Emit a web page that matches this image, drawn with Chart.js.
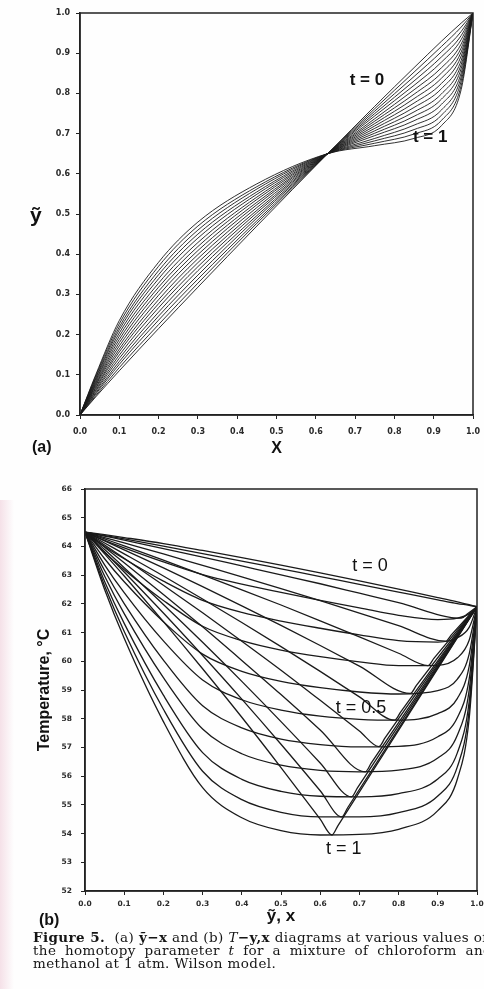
<!DOCTYPE html>
<html>
<head>
<meta charset="utf-8">
<script src="https://cdn.jsdelivr.net/npm/chart.js@4.4.1/dist/chart.umd.min.js"></script>
<style>
  body { margin: 0; width: 484px; height: 989px; background: #fefefe; position: relative; overflow: hidden; }
  .lbl { position: absolute; font-family: 'Liberation Sans', Arial, sans-serif; font-weight: bold; color: #111; white-space: nowrap; }
  .cap { position: absolute; left: 33px; font-family: 'DejaVu Serif', serif; font-size: 13.5px; line-height: 13px; letter-spacing: 0.4px; color: #151515; white-space: nowrap; }
  .tint { position: absolute; left: 0; top: 500px; width: 14px; height: 489px; background: linear-gradient(to right, rgba(236, 196, 210, 0.5), rgba(236, 196, 210, 0)); }
</style>
</head>
<body>
<div class="tint"></div>
<canvas id="chartA" width="484" height="460" style="position:absolute;left:0;top:0"></canvas>
<canvas id="chartB" width="484" height="450" style="position:absolute;left:0;top:480px"></canvas>
<div class="lbl" style="left:30px;top:203px;font-size:21px">ỹ</div>
<div class="lbl" style="left:32px;top:438px;font-size:16px">(a)</div>
<div class="lbl" style="left:39px;top:911px;font-size:16px">(b)</div>
<div class="cap" style="top:931px"><b>Figure 5.</b>&nbsp; (a) <b>ỹ−x</b> and (b) <i>T</i><b>−y,x</b> diagrams at various values of</div>
<div class="cap" style="top:944px;word-spacing:4px">the homotopy parameter <i>t</i> for a mixture of chloroform and</div>
<div class="cap" style="top:957px">methanol at 1 atm. Wilson model.</div>
<script>
// (a) y~ vs x, homotopy t = 0 ... 1 (17 curves, first row t = 0, last row t = 1)
const xA = [0, 0.04, 0.1, 0.2, 0.3, 0.45, 0.63, 0.75, 0.85, 0.92, 0.97, 1];
const yTildeA = [
  [0, 0.045, 0.110, 0.215, 0.318, 0.470, 0.65, 0.768, 0.864, 0.930, 0.975, 1],
  [0, 0.048, 0.118, 0.225, 0.328, 0.477, 0.65, 0.762, 0.853, 0.917, 0.965, 1],
  [0, 0.052, 0.126, 0.236, 0.338, 0.483, 0.65, 0.756, 0.842, 0.904, 0.954, 1],
  [0, 0.055, 0.133, 0.246, 0.348, 0.490, 0.65, 0.750, 0.831, 0.891, 0.944, 1],
  [0, 0.059, 0.141, 0.256, 0.359, 0.496, 0.65, 0.744, 0.820, 0.878, 0.934, 1],
  [0, 0.062, 0.149, 0.267, 0.369, 0.503, 0.65, 0.737, 0.809, 0.864, 0.923, 1],
  [0, 0.066, 0.157, 0.277, 0.379, 0.509, 0.65, 0.731, 0.798, 0.851, 0.913, 1],
  [0, 0.069, 0.164, 0.287, 0.389, 0.516, 0.65, 0.725, 0.787, 0.838, 0.903, 1],
  [0, 0.073, 0.172, 0.298, 0.399, 0.523, 0.65, 0.719, 0.776, 0.825, 0.893, 1],
  [0, 0.076, 0.180, 0.308, 0.409, 0.529, 0.65, 0.713, 0.765, 0.812, 0.882, 1],
  [0, 0.079, 0.188, 0.318, 0.419, 0.536, 0.65, 0.707, 0.754, 0.799, 0.872, 1],
  [0, 0.083, 0.196, 0.328, 0.429, 0.542, 0.65, 0.701, 0.743, 0.786, 0.862, 1],
  [0, 0.086, 0.204, 0.339, 0.440, 0.549, 0.65, 0.695, 0.732, 0.773, 0.851, 1],
  [0, 0.090, 0.212, 0.349, 0.450, 0.555, 0.65, 0.688, 0.721, 0.759, 0.841, 1],
  [0, 0.093, 0.219, 0.359, 0.460, 0.562, 0.65, 0.682, 0.710, 0.746, 0.831, 1],
  [0, 0.097, 0.227, 0.370, 0.470, 0.568, 0.65, 0.676, 0.699, 0.733, 0.820, 1],
  [0, 0.100, 0.235, 0.380, 0.480, 0.575, 0.65, 0.670, 0.688, 0.720, 0.810, 1]
];

// (b) T-x (bubble) and T-y (dew) curves, t = 0, 0.1, ... 1
const xB = [0, 0.05, 0.1, 0.2, 0.3, 0.4, 0.5, 0.6, 0.7, 0.8, 0.9, 0.95, 0.98, 1];
const bubbleT = [
  [64.5, 64.38, 64.26, 64.01, 63.75, 63.49, 63.22, 62.95, 62.68, 62.41, 62.14, 62.01, 61.95, 61.9],
  [64.5, 64.21, 63.95, 63.46, 63.02, 62.69, 62.40, 62.12, 61.86, 61.60, 61.45, 61.50, 61.65, 61.9],
  [64.5, 64.00, 63.57, 62.79, 62.12, 61.70, 61.40, 61.15, 60.92, 60.72, 60.67, 60.82, 61.18, 61.9],
  [64.5, 63.80, 63.19, 62.12, 61.22, 60.72, 60.39, 60.16, 59.98, 59.85, 59.86, 60.12, 60.73, 61.9],
  [64.5, 63.57, 62.77, 61.38, 60.25, 59.65, 59.30, 59.08, 58.93, 58.86, 58.98, 59.38, 60.25, 61.9],
  [64.5, 63.36, 62.39, 60.71, 59.35, 58.66, 58.30, 58.09, 57.98, 57.95, 58.18, 58.71, 59.82, 61.9],
  [64.5, 63.16, 62.01, 60.04, 58.45, 57.68, 57.29, 57.10, 57.02, 57.04, 57.37, 58.04, 59.38, 61.9],
  [64.5, 62.97, 61.66, 59.43, 57.64, 56.78, 56.38, 56.20, 56.15, 56.21, 56.63, 57.43, 58.99, 61.9],
  [64.5, 62.78, 61.32, 58.82, 56.82, 55.89, 55.47, 55.30, 55.28, 55.39, 55.90, 56.82, 58.59, 61.9],
  [64.5, 62.63, 61.04, 58.33, 56.17, 55.18, 54.74, 54.58, 54.58, 54.73, 55.31, 56.33, 58.28, 61.9],
  [64.5, 62.50, 60.80, 57.90, 55.60, 54.55, 54.10, 53.95, 53.97, 54.15, 54.80, 55.90, 58.00, 61.9]
];
const dewX = [
  [0, 0.05, 0.1, 0.2, 0.3, 0.4, 0.5, 0.6, 0.7, 0.8, 0.9, 0.95, 0.98, 1],
  [0, 0.05, 0.1, 0.2, 0.3, 0.4, 0.5, 0.6, 0.7, 0.8, 0.96, 0.975, 1],
  [0, 0.05, 0.1, 0.2, 0.3, 0.4, 0.5, 0.6, 0.7, 0.8, 0.92, 0.935, 1],
  [0, 0.05, 0.1, 0.2, 0.3, 0.4, 0.5, 0.6, 0.7, 0.8, 0.875, 0.89, 1],
  [0, 0.05, 0.1, 0.2, 0.3, 0.4, 0.5, 0.6, 0.7, 0.83, 0.845, 1],
  [0, 0.05, 0.1, 0.2, 0.3, 0.4, 0.5, 0.6, 0.7, 0.79, 0.805, 1],
  [0, 0.05, 0.1, 0.2, 0.3, 0.4, 0.5, 0.6, 0.7, 0.75, 0.765, 1],
  [0, 0.05, 0.1, 0.2, 0.3, 0.4, 0.5, 0.6, 0.715, 0.73, 1],
  [0, 0.05, 0.1, 0.2, 0.3, 0.4, 0.5, 0.6, 0.68, 0.695, 1],
  [0, 0.05, 0.1, 0.2, 0.3, 0.4, 0.5, 0.6, 0.655, 0.67, 1],
  [0, 0.05, 0.1, 0.2, 0.3, 0.4, 0.5, 0.6, 0.63, 0.645, 1]
];
const dewT = [
  [64.5, 64.41, 64.31, 64.10, 63.86, 63.61, 63.35, 63.08, 62.80, 62.51, 62.22, 62.07, 61.97, 61.9],
  [64.5, 64.36, 64.22, 63.92, 63.63, 63.32, 63.01, 62.70, 62.37, 62.04, 61.50, 61.65, 61.9],
  [64.5, 64.31, 64.12, 63.74, 63.34, 62.94, 62.53, 62.11, 61.68, 61.24, 60.70, 60.93, 61.9],
  [64.5, 64.26, 64.02, 63.52, 63.01, 62.49, 61.96, 61.41, 60.85, 60.28, 59.85, 60.10, 61.9],
  [64.5, 64.19, 63.88, 63.25, 62.60, 61.93, 61.25, 60.55, 59.83, 58.88, 59.15, 61.9],
  [64.5, 64.12, 63.74, 62.97, 62.17, 61.35, 60.51, 59.65, 58.76, 57.95, 58.23, 61.9],
  [64.5, 64.05, 63.59, 62.65, 61.69, 60.70, 59.69, 58.64, 57.57, 57.03, 57.32, 61.9],
  [64.5, 63.97, 63.43, 62.33, 61.20, 60.03, 58.84, 57.61, 56.15, 56.45, 61.9],
  [64.5, 63.89, 63.26, 61.98, 60.66, 59.30, 57.90, 56.46, 55.28, 55.59, 61.9],
  [64.5, 63.81, 63.11, 61.68, 60.20, 58.68, 57.11, 55.49, 54.58, 54.90, 61.9],
  [64.5, 63.74, 62.97, 61.38, 59.74, 58.05, 56.30, 54.50, 53.95, 54.27, 61.9]
];

// curve labels, in data units
const labelsA = [
  { text: 't = 0', x: 0.73, y: 0.833 },
  { text: 't = 1', x: 0.891, y: 0.692 }
];
const labelsB = [
  { text: 't = 0', x: 0.727, y: 63.3 },
  { text: 't = 0.5', x: 0.704, y: 58.37 },
  { text: 't = 1', x: 0.66, y: 53.46 }
];

const ink = '#1a1a1a';
const tickFontA = { family: 'DejaVu Sans', size: 8, weight: 'bold' };
const tickFontB = { family: 'DejaVu Sans', size: 7.5, weight: 'bold' };
const titleFont = { family: 'Liberation Sans', size: 16, weight: 'bold' };

function curves(xs, rows, width) {
  return rows.map((ys, i) => {
    const xr = Array.isArray(xs[0]) ? xs[i] : xs;
    return {
      data: ys.map((y, j) => ({ x: xr[j], y: y })),
      borderColor: ink,
      borderWidth: width,
      pointRadius: 0,
      fill: false,
      cubicInterpolationMode: 'monotone'
    };
  });
}

// box round the plot and the t = ... labels
const framePlugin = {
  id: 'frame',
  afterDatasetsDraw(chart, args, opts) {
    const { ctx, chartArea: a, scales } = chart;
    ctx.save();
    ctx.strokeStyle = '#222';
    ctx.lineWidth = 1.5;
    ctx.strokeRect(a.left, a.top, a.right - a.left, a.bottom - a.top);
    ctx.font = opts.font;
    ctx.fillStyle = '#111';
    ctx.textAlign = 'center';
    ctx.textBaseline = 'middle';
    opts.labels.forEach(l => {
      ctx.fillText(l.text, scales.x.getPixelForValue(l.x), scales.y.getPixelForValue(l.y));
    });
    ctx.restore();
  }
};

function axis(min, max, step, digits, font, pad, size, horizontal, title) {
  return {
    type: 'linear',
    min: min,
    max: max,
    ticks: {
      stepSize: step,
      autoSkip: false,
      maxRotation: 0,
      font: font,
      color: '#2a2a2a',
      padding: pad,
      callback: v => v.toFixed(digits)
    },
    grid: { drawOnChartArea: false, tickLength: 4, color: '#222', lineWidth: 1 },
    border: { color: '#222', width: 1.5 },
    title: title,
    afterFit: s => {
      if (horizontal) s.height = size; else s.width = size;
      s.paddingLeft = 0; s.paddingRight = 0; s.paddingTop = 0; s.paddingBottom = 0;
    }
  };
}

new Chart(document.getElementById('chartA'), {
  type: 'line',
  data: { datasets: curves(xA, yTildeA, 0.9) },
  plugins: [framePlugin],
  options: {
    responsive: false,
    animation: false,
    layout: { padding: { top: 13, right: 11, left: 0, bottom: 0 } },
    plugins: {
      legend: { display: false },
      tooltip: { enabled: false },
      frame: { labels: labelsA, font: 'bold 17px "Liberation Sans", Arial, sans-serif' }
    },
    scales: {
      x: axis(0, 1, 0.1, 1, tickFontA, 8, 45, true,
        { display: true, text: 'X', font: titleFont, color: '#111', padding: { top: 0, bottom: 2 } }),
      y: axis(0, 1, 0.1, 1, tickFontA, 6, 80, false, { display: false })
    }
  }
});

new Chart(document.getElementById('chartB'), {
  type: 'line',
  data: { datasets: curves(dewX, dewT, 1.3).concat(curves(xB, bubbleT, 1.3)) },
  plugins: [framePlugin],
  options: {
    responsive: false,
    animation: false,
    layout: { padding: { top: 9, right: 7, left: 0, bottom: 0 } },
    plugins: {
      legend: { display: false },
      tooltip: { enabled: false },
      frame: { labels: labelsB, font: '18px "Liberation Sans", Arial, sans-serif' }
    },
    scales: {
      x: axis(0, 1, 0.1, 1, tickFontB, 5, 39, true,
        { display: true, text: 'ỹ, x', font: { family: 'Liberation Sans', size: 17, weight: 'bold' }, color: '#111', padding: { top: 0, bottom: 3 } }),
      y: axis(52, 66, 1, 0, tickFontB, 9, 85, false,
        { display: true, text: 'Temperature, °C', font: titleFont, color: '#111', padding: { top: 35, bottom: 0 } })
    }
  }
});
</script>
</body>
</html>
